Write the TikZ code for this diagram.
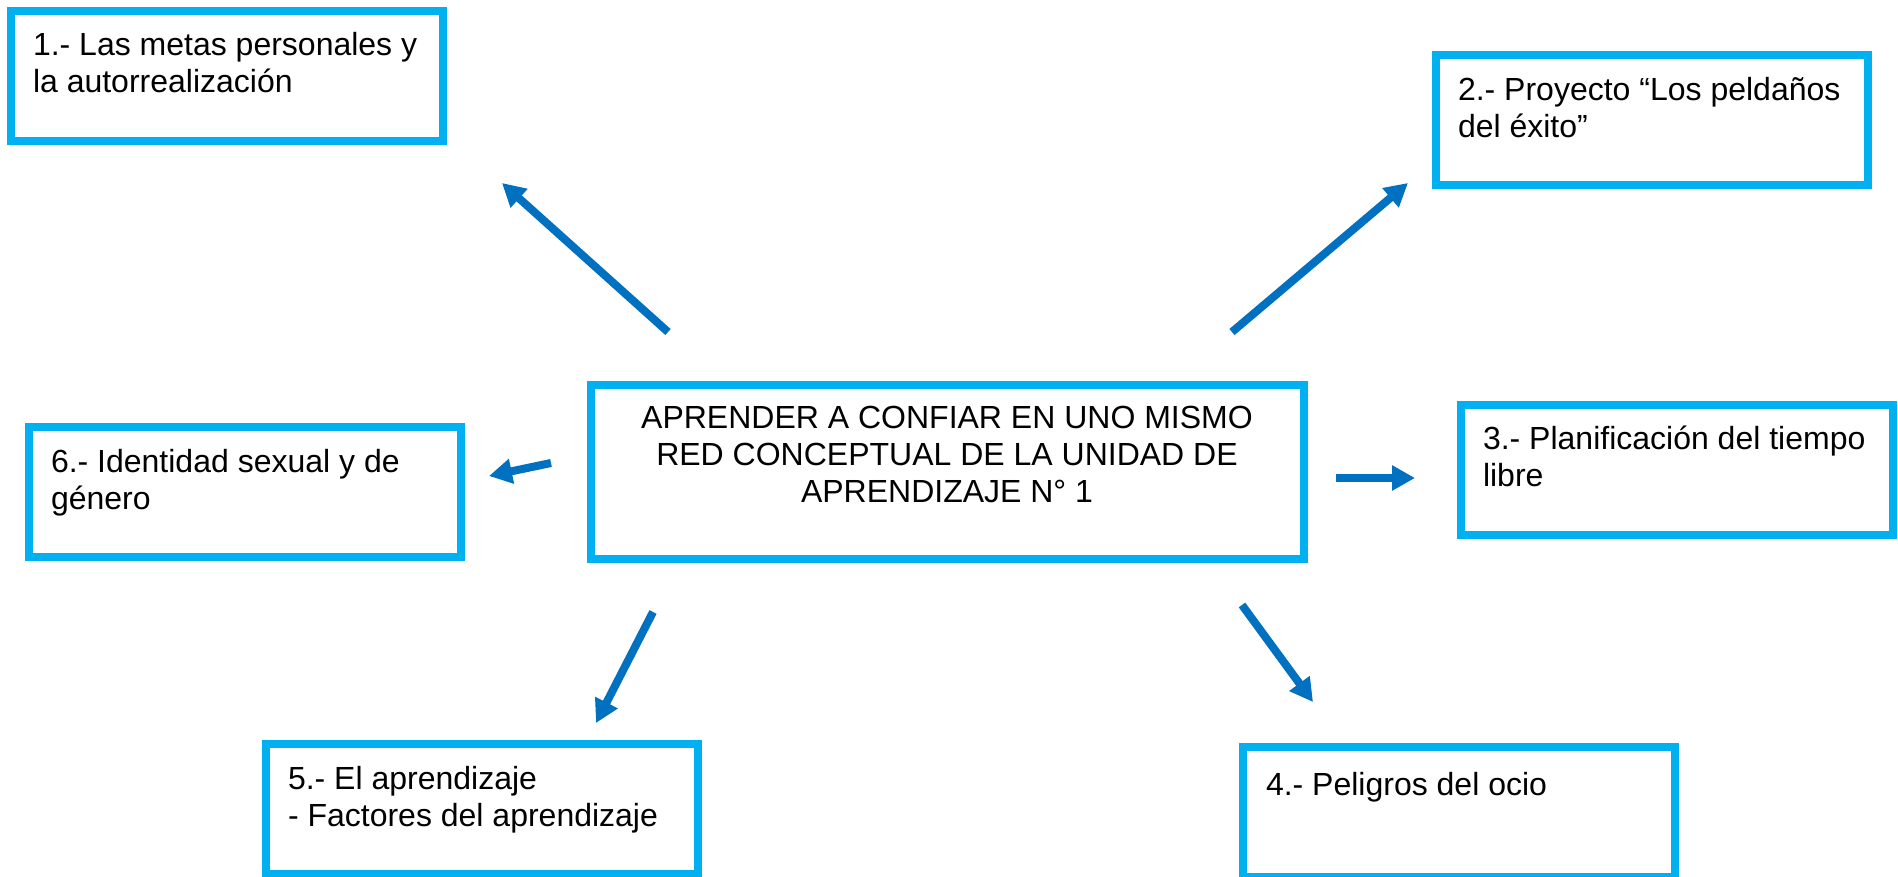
\documentclass[tikz,border=0pt]{standalone}
\usepackage{fontspec}
\setmainfont{Liberation Sans}
\usetikzlibrary{arrows.meta}
\definecolor{boxcyan}{HTML}{00B0F0}
\definecolor{arrblue}{HTML}{0070C0}
\begin{document}
\begin{tikzpicture}[x=1pt,y=-1pt,
  bx/.style={draw=boxcyan, line width=8pt, rectangle, inner sep=0pt, outer sep=0pt, anchor=north west},
  smallbox/.style={bx, minimum width=432pt, minimum height=130pt},
  txt/.style={anchor=north west, inner sep=0pt, outer sep=0pt, align=left, font=\fontsize{32}{37}\selectfont, text=black, execute at begin node=\strut},
  arr/.style={draw=arrblue, line width=8pt, -{Triangle[length=23pt,width=24pt]}},
]
\useasboundingbox (0,0) rectangle (1898,877);
\fill[white] (0,0) rectangle (1898,877);

% boxes
\node[smallbox] (b1) at (11,11) {};
\node[smallbox] (b2) at (1436,55) {};
\node[smallbox] (b3) at (1461,405) {};
\node[smallbox] (b6) at (29,427) {};
\node[smallbox] (b5) at (266,744) {};
\node[smallbox] (b4) at (1243,747) {};
\node[bx, minimum width=713pt, minimum height=174pt] (bc) at (591,385) {};

% texts
\node[txt] (t1) at (33,32) {1.- Las metas personales y\\la autorrealización};
\node[txt] (t2) at (1458,77) {2.- Proyecto “Los peldaños\\del éxito”};
\node[txt] (t3) at (1483,426) {3.- Planificación del tiempo\\libre};
\node[txt] (t4) at (1266,770) {4.- Peligros del ocio};
\node[txt] (t5) at (288,766) {5.- El aprendizaje\\- Factores del aprendizaje};
\node[txt] (t6) at (51,449) {6.- Identidad sexual y de\\género};
\node[txt, anchor=north, align=center] (tc) at (947,406) {APRENDER A CONFIAR EN UNO MISMO\\RED CONCEPTUAL DE LA UNIDAD DE\\APRENDIZAJE N° 1};

% arrow ends
\coordinate (a1s) at (668,332); \coordinate (a1e) at (502,183);
\coordinate (a2s) at (1232,332); \coordinate (a2e) at (1408,183);
\coordinate (a3s) at (1336,478); \coordinate (a3e) at (1415,478);
\coordinate (a4s) at (1242,605); \coordinate (a4e) at (1313,702);
\coordinate (a5s) at (653,612); \coordinate (a5e) at (596,723);
\coordinate (a6s) at (551,463); \coordinate (a6e) at (489,476);

\draw[arr] (a1s) -- (a1e);
\draw[arr] (a2s) -- (a2e);
\draw[arr] (a3s) -- (a3e);
\draw[arr] (a4s) -- (a4e);
\draw[arr] (a5s) -- (a5e);
\draw[arr] (a6s) -- (a6e);
\end{tikzpicture}
\end{document}
